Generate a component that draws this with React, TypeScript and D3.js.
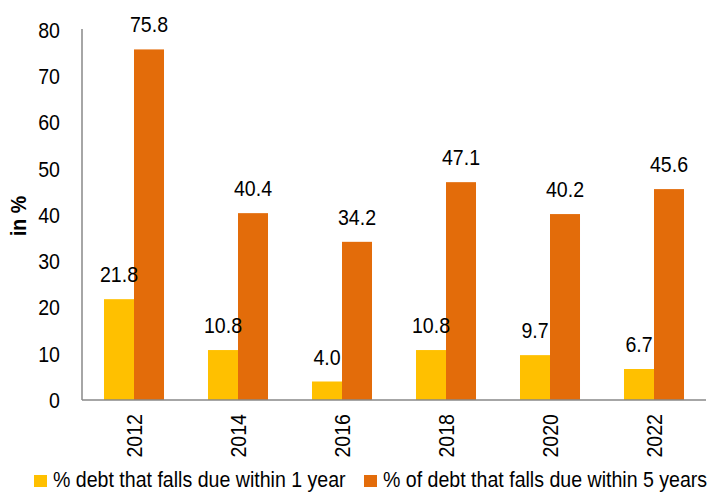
import React from "react";
import * as d3 from "d3";

const years = ["2012", "2014", "2016", "2018", "2020", "2022"];
const within1 = [21.8, 10.8, 4.0, 10.8, 9.7, 6.7];
const within5 = [75.8, 40.4, 34.2, 47.1, 40.2, 45.6];
const yTicks = [0, 10, 20, 30, 40, 50, 60, 70, 80];
const seriesNames = ["% debt that falls due within 1 year", "% of debt that falls due within 5 years"];
const colors = ["#FFC000", "#E36C0A"];

const SX = 0.89;
const FS = 22;

function T({ x, y, rot = 0, anchor = "start", dy, bold, children }: any) {
  return (
    <text
      transform={`translate(${x},${y}) rotate(${rot}) scale(${SX},1)`}
      textAnchor={anchor}
      dy={dy}
      fontSize={FS}
      fontWeight={bold ? "bold" : "normal"}
      fill="#000"
    >
      {children}
    </text>
  );
}

export default function App() {
  const W = 709, H = 492;
  const left = 82, right = 706, top = 30, bottom = 400;
  const x = d3.scaleBand<string>().domain(years).range([left, right]).paddingInner(0.423).paddingOuter(0.2115);
  const y = d3.scaleLinear().domain([0, 80]).range([bottom, top]);
  const bw = x.bandwidth() / 2;
  const font = "'Liberation Sans', Arial, sans-serif";
  const series = [within1, within5];
  return (
    <svg width={W} height={H} style={{ position: "absolute", left: 0, top: 0 }} fontFamily={font}>
      <rect width={W} height={H} fill="#fff" />
      {yTicks.map((t) => (
        <T key={t} x={60} y={y(t)} anchor="end" dy="0.36em">{t}</T>
      ))}
      {series.map((s, si) =>
        s.map((v, i) => {
          const bx = (x(years[i]) as number) + si * bw;
          return <rect key={"b" + si + "-" + i} x={bx} y={y(v)} width={bw} height={bottom - y(v)} fill={colors[si]} />;
        })
      )}
      {series.map((s, si) =>
        s.map((v, i) => {
          const bx = (x(years[i]) as number) + si * bw;
          return <T key={"l" + si + "-" + i} x={bx + bw / 2} y={y(v) - 17} anchor="middle">{v.toFixed(1)}</T>;
        })
      )}
      <line x1={left} x2={left} y1={top - 1} y2={bottom} stroke="#888" strokeWidth={1.5} />
      <line x1={left} x2={right} y1={bottom} y2={bottom} stroke="#888" strokeWidth={1.5} />
      {years.map((yr) => {
        const cx = (x(yr) as number) + x.bandwidth() / 2;
        return (
          <T key={yr} x={cx} y={414} rot={-90} anchor="end" dy="0.36em">{yr}</T>
        );
      })}
      <T x={18} y={216} rot={-90} anchor="middle" dy="0.36em" bold>in %</T>
      <rect x={34} y={475} width={13} height={12} fill={colors[0]} />
      <T x={53} y={487}>{seriesNames[0]}</T>
      <rect x={364} y={475} width={13} height={12} fill={colors[1]} />
      <T x={383} y={487}>{seriesNames[1]}</T>
    </svg>
  );
}
